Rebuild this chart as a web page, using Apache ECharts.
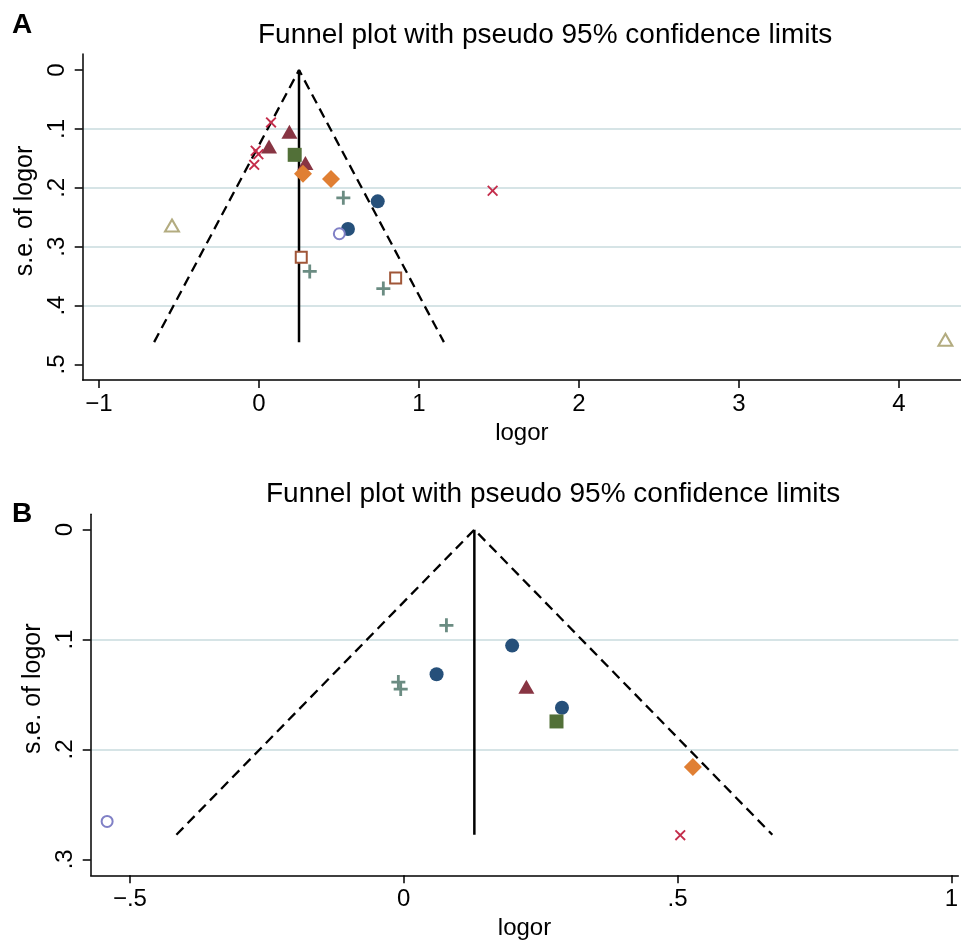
<!DOCTYPE html>
<html><head><meta charset="utf-8">
<script src="https://cdn.jsdelivr.net/npm/echarts@6/dist/echarts.min.js"></script>
<style>html,body{margin:0;padding:0;background:#fff}#c{width:961px;height:943px}</style>
</head><body><div id="c"></div>
<script>
// ---------- text ----------
const titleText = 'Funnel plot with pseudo 95% confidence limits';
const panelLabels = ['A', 'B'];
const xName = 'logor';
const yName = 's.e. of logor';

// ---------- ticks ----------
const xTicksA = [-1, 0, 1, 2, 3, 4];
const yTicksA = [0, 0.1, 0.2, 0.3, 0.4, 0.5];
const xTicksB = [-0.5, 0, 0.5, 1];
const yTicksB = [0, 0.1, 0.2, 0.3];

// ---------- funnel (pooled logor, max s.e.) ----------
const funnelCenterA = 0.25;
const funnelSeMaxA = 0.462;
const funnelCenterB = 0.129;
const funnelSeMaxB = 0.2776;

// ---------- panel A points [logor, s.e.] ----------
const aNavy = [[0.742, 0.223], [0.556, 0.270]];
const aMaroon = [[0.19, 0.105], [0.0625, 0.130], [0.29, 0.158]];
const aGreen = [[0.223, 0.144]];
const aOrange = [[0.275, 0.176], [0.45, 0.185]];
const aTeal = [[0.527, 0.217], [0.317, 0.342], [0.777, 0.371]];
const aCranberry = [[0.075, 0.089], [-0.021, 0.137], [-0.004, 0.143], [-0.030, 0.161], [1.46, 0.205]];
const aLavender = [[0.502, 0.278]];
const aKhaki = [[-0.544, 0.264], [4.29, 0.458]];
const aSienna = [[0.264, 0.318], [0.854, 0.353]];

// ---------- panel B points [logor, s.e.] ----------
const bNavy = [[0.060, 0.1315], [0.198, 0.1055], [0.289, 0.162]];
const bMaroon = [[0.224, 0.143]];
const bGreen = [[0.279, 0.1745]];
const bOrange = [[0.528, 0.216]];
const bTeal = [[0.078, 0.087], [-0.0098, 0.1387], [-0.0055, 0.145]];
const bCranberry = [[0.505, 0.278]];
const bLavender = [[-0.5416, 0.2655]];

// ---------- styling ----------
const FONT = '"Liberation Sans", Arial, Helvetica, sans-serif';
const C = {
  navy: '#26507a', maroon: '#883543', green: '#527038', orange: '#e07f33',
  teal: '#6b8c82', cranberry: '#c42d4b', lavender: '#8080c6', khaki: '#b3ac80', sienna: '#a05638',
  grid: '#d6e4e6'
};
const PLUS = 'path://M4,0H6V4H10V6H6V10H4V6H0V4H4Z';
const CROSS = 'path://M1.2,0L5,3.8L8.8,0L10,1.2L6.2,5L10,8.8L8.8,10L5,6.2L1.2,10L0,8.8L3.8,5L0,1.2Z';

function fmt(v) {
  if (Math.abs(v) < 1e-9) return '0';
  let s = String(+v.toFixed(3));
  s = s.replace(/^(-?)0\./, '$1.');
  return s.replace('-', '\u2212');
}

function xAxisCfg(gi, min, max, ticks) {
  return {
    type: 'value', gridIndex: gi, min: min, max: max,
    name: xName, nameLocation: 'middle', nameGap: 41,
    nameTextStyle: { fontSize: 24, color: '#000', fontFamily: FONT },
    axisLine: { show: true, onZero: false, lineStyle: { color: '#000', width: 1.5 } },
    axisTick: { show: true, customValues: ticks, length: 8, lineStyle: { color: '#000', width: 1.5 } },
    axisLabel: { customValues: ticks, formatter: fmt, fontSize: 24, color: '#000', fontFamily: FONT, margin: 12 },
    splitLine: { show: false }
  };
}
function yAxisCfg(gi, min, max, ticks) {
  return {
    type: 'value', gridIndex: gi, min: min, max: max, inverse: true,
    name: yName, nameLocation: 'middle', nameGap: 39,
    nameTextStyle: { fontSize: 25, color: '#000', fontFamily: FONT, padding: [0, 0, 0, 12] },
    axisLine: { show: true, onZero: false, lineStyle: { color: '#000', width: 1.5 } },
    axisTick: { show: true, customValues: ticks, length: 8, lineStyle: { color: '#000', width: 1.5 } },
    axisLabel: { customValues: ticks, formatter: fmt, rotate: 90, fontSize: 24, color: '#000', fontFamily: FONT, margin: 13 },
    splitLine: { show: true, showMinLine: false, showMaxLine: false, lineStyle: { color: C.grid, width: 2 } }
  };
}

function pts(gi, data, symbol, size, color, hollow) {
  return {
    type: 'scatter', xAxisIndex: gi, yAxisIndex: gi, data: data,
    symbol: symbol, symbolSize: size, silent: true, z: 5,
    itemStyle: hollow ? { color: '#fff', borderColor: color, borderWidth: 2, opacity: 1 } : { color: color, opacity: 1 }
  };
}
function funnel(gi, c, s) {
  const z = 1.96;
  return [
    { type: 'line', xAxisIndex: gi, yAxisIndex: gi, symbol: 'none', silent: true, z: 3,
      data: [[c - z * s, s], [c, 0], [c + z * s, s]],
      lineStyle: { color: '#000', width: 2.3, type: [10, 6] } },
    { type: 'line', xAxisIndex: gi, yAxisIndex: gi, symbol: 'none', silent: true, z: 3,
      data: [[c, 0], [c, s]],
      lineStyle: { color: '#000', width: 2.5 } }
  ];
}

const chart = echarts.init(document.getElementById('c'), null, { renderer: 'canvas' });
const tStyle = { fontSize: 28, fontWeight: 'normal', color: '#000', fontFamily: FONT };
const lStyle = { fontSize: 28, fontWeight: 'bold', color: '#000', fontFamily: FONT };
chart.setOption({
  animation: false,
  backgroundColor: '#fff',
  title: [
    { text: panelLabels[0], left: 12, top: 11, padding: 0, textStyle: lStyle },
    { text: titleText, left: 258, top: 21, padding: 0, textStyle: tStyle },
    { text: panelLabels[1], left: 12, top: 500, padding: 0, textStyle: lStyle },
    { text: titleText, left: 266, top: 480, padding: 0, textStyle: tStyle }
  ],
  grid: [
    { left: 82.7, top: 54, width: 878.3, height: 326 },
    { left: 90.7, top: 514.3, width: 870.3, height: 361 }
  ],
  xAxis: [
    xAxisCfg(0, -1.102, 4.3875, xTicksA),
    xAxisCfg(1, -0.5716, 1.0128, xTicksB)
  ],
  yAxis: [
    yAxisCfg(0, -0.0272, 0.5263, yTicksA),
    yAxisCfg(1, -0.014, 0.3145, yTicksB)
  ],
  series: [
    ...funnel(0, funnelCenterA, funnelSeMaxA),
    ...funnel(1, funnelCenterB, funnelSeMaxB),
    pts(0, aNavy, 'circle', 14, C.navy),
    pts(0, aMaroon, 'triangle', [16, 14], C.maroon),
    pts(0, aGreen, 'rect', 14, C.green),
    pts(0, aOrange, 'diamond', 18, C.orange),
    pts(0, aTeal, PLUS, 14, C.teal),
    pts(0, aCranberry, CROSS, 11, C.cranberry),
    pts(0, aLavender, 'circle', 11, C.lavender, true),
    pts(0, aKhaki, 'triangle', [14, 12], C.khaki, true),
    pts(0, aSienna, 'rect', 11, C.sienna, true),
    pts(1, bNavy, 'circle', 14, C.navy),
    pts(1, bMaroon, 'triangle', [16, 14], C.maroon),
    pts(1, bGreen, 'rect', 14, C.green),
    pts(1, bOrange, 'diamond', 18, C.orange),
    pts(1, bTeal, PLUS, 14, C.teal),
    pts(1, bCranberry, CROSS, 11, C.cranberry),
    pts(1, bLavender, 'circle', 11, C.lavender, true)
  ]
});
</script>
</body></html>
